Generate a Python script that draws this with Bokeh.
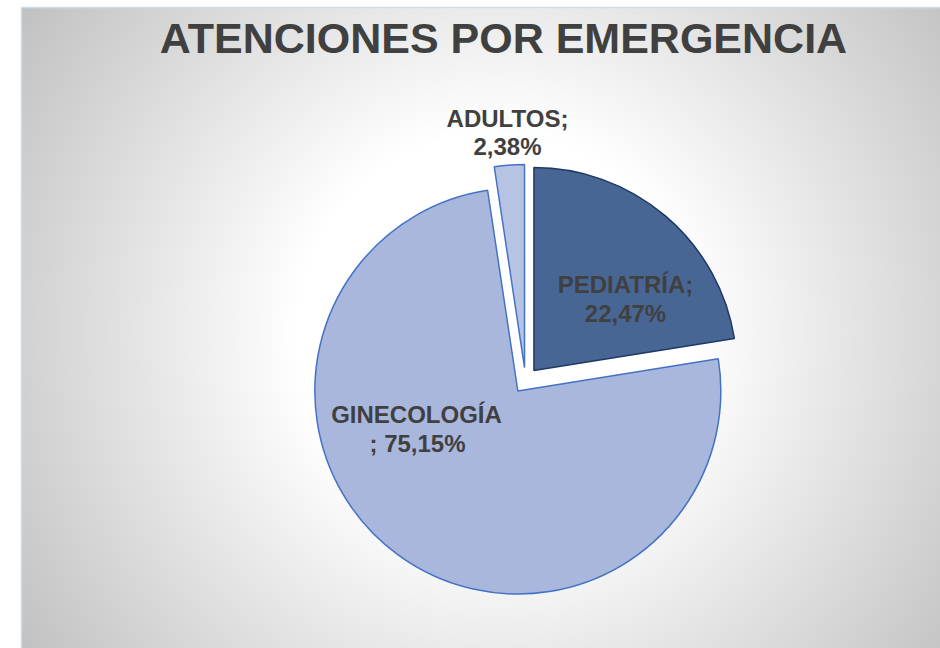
import numpy as np
from bokeh.plotting import figure
from bokeh.models import Range1d
from bokeh.core.properties import value
from bokeh.embed import file_html
from bokeh.resources import INLINE

# ---- data ----
categories = ["PEDIATRÍA", "GINECOLOGÍA", "ADULTOS"]
percentages = [22.47, 75.15, 2.38]
title_text = "ATENCIONES POR EMERGENCIA"

# ---- styles / layout ----
fill_colors = ["#486694", "#a9b7dd", "#b7c3e2"]
line_colors = ["#1f3864", "#4472c4", "#4472c4"]
W, H = 940, 648
cx, cy = 525, H - 380          # pie centre
radius = 203
explode = 13
label_lines = [
    [("PEDIATRÍA;", 625, H - 284), ("22,47%", 625, H - 313)],
    [("GINECOLOGÍA", 416, H - 414), ("; 75,15%", 417, H - 443)],
    [("ADULTOS;", 507, H - 118), ("2,38%", 507, H - 146)],
]

p = figure(width=W, height=H, output_backend="svg", toolbar_location=None,
           x_range=Range1d(0, W), y_range=Range1d(0, H), min_border=0,
           tools="")
p.axis.visible = False
p.grid.visible = False
p.outline_line_color = None
p.background_fill_color = "white"
p.border_fill_color = "white"

# background radial gradient
bx0, btop = 21, 7
bw, bh = W - bx0, H - btop
xs = np.arange(bw) + bx0 + 0.5
ys = np.arange(bh) + 0.5
X, Y = np.meshgrid(xs, ys)
gcx, gcy = 495, H - 330
d = np.sqrt((X - gcx) ** 2 + (Y - gcy) ** 2)
g = 255 - np.clip(d - 200, 0, None) * 0.165
g = np.clip(g, 0, 255).astype(np.uint32)
img = (255 << 24) | (g << 16) | (g << 8) | g
p.image_rgba(image=[img.astype(np.uint32)], x=bx0, y=0, dw=bw, dh=bh)
# thin light blue edge
p.line([bx0, bx0], [0, bh], line_color="#c9ddf2", line_width=1.5)
p.line([bx0, W], [bh, bh], line_color="#c9ddf2", line_width=1.5)

# pie slices
total = sum(percentages)
cum = 0.0
for i, v in enumerate(percentages):
    start = np.pi / 2 - cum / total * 2 * np.pi
    cum += v
    end = np.pi / 2 - cum / total * 2 * np.pi
    mid = (start + end) / 2
    ox = cx + explode * np.cos(mid)
    oy = cy + explode * np.sin(mid)
    p.wedge(x=ox, y=oy, radius=radius, start_angle=end, end_angle=start,
            direction="anticlock", fill_color=fill_colors[i],
            line_color=line_colors[i], line_width=1.5)

# labels
for lines in label_lines:
    for txt, lx, ly in lines:
        p.text(x=[lx], y=[ly], text=[txt], text_font=value("Liberation Sans"),
               text_font_style="bold", text_font_size="24px",
               text_color="#404040", text_align="center",
               text_baseline="middle")

# title
p.text(x=[503], y=[H - 37], text=[title_text], text_font=value("Liberation Sans"),
       text_font_style="bold", text_font_size="43px", text_color="#404040",
       text_align="center", text_baseline="middle")

open("out.html", "w").write(file_html(p, INLINE))
